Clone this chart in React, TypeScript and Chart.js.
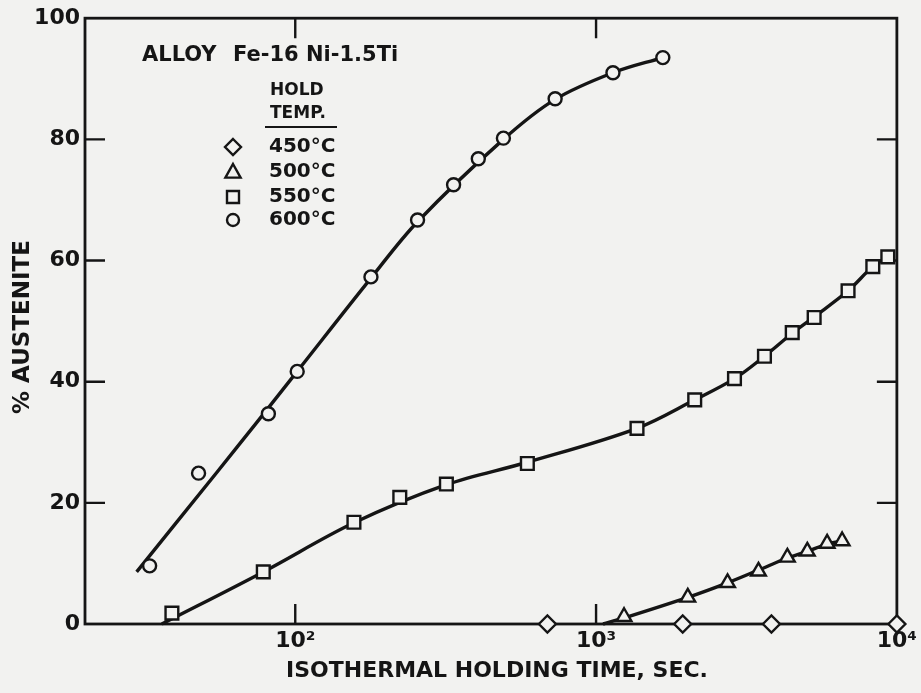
import React, { useEffect, useRef } from 'react';
import { Chart, registerables } from 'chart.js';

Chart.register(...registerables);

// ---- Data (x: seconds, y: % austenite) ----
const t600 = [32.8, 47.7, 81.4, 101.5, 178.5, 255, 336, 406, 492, 731, 1138, 1667];
const a600 = [9.6, 24.9, 34.7, 41.7, 57.3, 66.7, 72.5, 76.8, 80.2, 86.7, 91.0, 93.5];

const t550 = [38.9, 78.3, 156.7, 222.6, 318, 591, 1368, 2128, 2885, 3629, 4489, 5309, 6882, 8318, 9330];
const a550 = [1.8, 8.6, 16.8, 20.9, 23.1, 26.5, 32.3, 37.0, 40.5, 44.2, 48.1, 50.6, 55.0, 59.0, 60.6];

const t500 = [1239, 2018, 2736, 3467, 4325, 5038, 5863, 6577];
const a500 = [1.2, 4.4, 6.8, 8.7, 11.0, 12.0, 13.3, 13.7];

const t450 = [689, 1941, 3828, 10000];
const a450 = [0, 0, 0, 0];

// smooth fitted curves as drawn in the reference
const fit600T = [29.7, 55, 74.3, 101.5, 178.5, 255, 492, 731, 1138, 1667];
const fit600A = [8.6, 25.1, 33.2, 41.7, 57.1, 66.4, 80.0, 86.6, 91.0, 93.5];

const fit550T = [36, 78.3, 156.7, 318, 591, 1368, 2128, 2885, 3629, 4489, 5309, 6882, 8318, 9330];
const fit550A = [0, 8.6, 16.7, 23.0, 26.7, 32.3, 37.0, 40.5, 44.2, 48.0, 50.7, 55.0, 59.0, 60.6];

const fit500T = [1055, 1239, 2018, 2736, 3467, 4325, 5038, 5863, 6577];
const fit500A = [0, 1.0, 4.4, 6.8, 8.9, 10.9, 12.0, 13.2, 13.7];

const xTickLabels: Record<number, string> = { 100: '10²', 1000: '10³', 10000: '10⁴' };
const yTicks = [20, 40, 60, 80];
const xInnerTicks = [100, 1000];

const legendLabels = ['450°C', '500°C', '550°C', '600°C'];
const legendStyles = ['diamond', 'triangle', 'square', 'circle'];

const INK = '#151515';
const PAPER = '#f2f2f0';
const FONT = '"DejaVu Sans", sans-serif';

const pts = (xs: number[], ys: number[]) => xs.map((x, i) => ({ x, y: ys[i] }));

function markerSet(label: string, xs: number[], ys: number[], style: string, radius: number) {
  return {
    label,
    data: pts(xs, ys),
    showLine: false,
    pointStyle: style,
    pointRadius: radius,
    pointBackgroundColor: PAPER,
    pointBorderColor: INK,
    pointBorderWidth: 2.4,
    clip: false as any,
  };
}

function fitSet(label: string, xs: number[], ys: number[]) {
  return {
    label,
    data: pts(xs, ys),
    showLine: true,
    pointRadius: 0,
    borderColor: INK,
    borderWidth: 3.4,
    tension: 0.35,
    clip: false as any,
  };
}

function drawSymbol(ctx: CanvasRenderingContext2D, style: string, x: number, y: number, r: number) {
  ctx.beginPath();
  if (style === 'diamond') {
    ctx.moveTo(x, y - r);
    ctx.lineTo(x + r, y);
    ctx.lineTo(x, y + r);
    ctx.lineTo(x - r, y);
    ctx.closePath();
  } else if (style === 'triangle') {
    ctx.moveTo(x, y - r);
    ctx.lineTo(x + r * 0.95, y + r * 0.7);
    ctx.lineTo(x - r * 0.95, y + r * 0.7);
    ctx.closePath();
  } else if (style === 'square') {
    ctx.rect(x - r * 0.75, y - r * 0.75, r * 1.5, r * 1.5);
  } else {
    ctx.arc(x, y, r * 0.75, 0, Math.PI * 2);
  }
  ctx.stroke();
}

const framePlugin = {
  id: 'frame',
  beforeDatasetsDraw(chart: any) {
    const { ctx, chartArea: a, scales } = chart;
    ctx.save();
    ctx.strokeStyle = INK;
    ctx.lineWidth = 2.8;
    ctx.strokeRect(a.left, a.top, a.right - a.left, a.bottom - a.top);
    ctx.lineWidth = 2.4;
    const len = 20;
    yTicks.forEach((v) => {
      const py = scales.y.getPixelForValue(v);
      ctx.beginPath();
      ctx.moveTo(a.left, py);
      ctx.lineTo(a.left + len, py);
      ctx.moveTo(a.right, py);
      ctx.lineTo(a.right - len, py);
      ctx.stroke();
    });
    xInnerTicks.forEach((v) => {
      const px = scales.x.getPixelForValue(v);
      ctx.beginPath();
      ctx.moveTo(px, a.bottom);
      ctx.lineTo(px, a.bottom - len);
      ctx.moveTo(px, a.top);
      ctx.lineTo(px, a.top + len);
      ctx.stroke();
    });
    ctx.restore();
  },
  afterDraw(chart: any) {
    const { ctx } = chart;
    ctx.save();
    ctx.fillStyle = INK;
    ctx.strokeStyle = INK;
    // axis titles
    ctx.font = `bold 22px ${FONT}`;
    ctx.textAlign = 'center';
    ctx.textBaseline = 'middle';
    ctx.fillText('ISOTHERMAL HOLDING TIME, SEC.', 497, 671);
    ctx.save();
    ctx.translate(23, 327);
    ctx.rotate(-Math.PI / 2);
    ctx.font = `bold 23px ${FONT}`;
    ctx.fillText('% AUSTENITE', 0, 0);
    ctx.restore();

    // legend block
    ctx.textAlign = 'left';
    ctx.font = `bold 21px ${FONT}`;
    ctx.fillText('ALLOY', 142, 56);
    ctx.fillText('Fe-16 Ni-1.5Ti', 233, 56);
    ctx.font = `bold 17px ${FONT}`;
    ctx.fillText('HOLD', 270, 91);
    ctx.fillText('TEMP.', 270, 114);
    ctx.lineWidth = 2;
    ctx.beginPath();
    ctx.moveTo(265, 127);
    ctx.lineTo(337, 127);
    ctx.stroke();
    const rows = [147, 172, 197, 220];
    ctx.font = `bold 20px ${FONT}`;
    ctx.lineWidth = 2.4;
    legendLabels.forEach((lab, i) => {
      drawSymbol(ctx, legendStyles[i], 233, rows[i], 8);
      ctx.fillText(lab, 269, rows[i]);
    });
    ctx.restore();
  },
};

export default function App() {
  const ref = useRef<HTMLCanvasElement>(null);
  useEffect(() => {
    if (!ref.current) return;
    const chart = new Chart(ref.current, {
      type: 'scatter',
      data: {
        datasets: [
          markerSet('450°C', t450, a450, 'rectRot', 8.5) as any,
          markerSet('500°C', t500, a500, 'triangle', 8.5) as any,
          markerSet('550°C', t550, a550, 'rect', 9) as any,
          markerSet('600°C', t600, a600, 'circle', 6.5) as any,
          fitSet('fit600', fit600T, fit600A) as any,
          fitSet('fit550', fit550T, fit550A) as any,
          fitSet('fit500', fit500T, fit500A) as any,
        ],
      },
      options: {
        responsive: false,
        animation: false,
        layout: { padding: { top: 17, right: 23, left: 0, bottom: 0 } },
        plugins: { legend: { display: false }, tooltip: { enabled: false }, title: { display: false } },
        scales: {
          x: {
            type: 'logarithmic',
            min: 20,
            max: 10000,
            grid: { display: false, drawTicks: false },
            border: { display: false },
            afterFit: (s: any) => { s.height = 69; },
            ticks: {
              autoSkip: false,
              maxRotation: 0,
              padding: 4,
              color: INK,
              font: { family: FONT, size: 22, weight: 'bold' },
              callback: (v: any) => xTickLabels[Math.round(Number(v))] ?? null,
            },
          },
          y: {
            min: 0,
            max: 100,
            grid: { display: false, drawTicks: false },
            border: { display: false },
            afterFit: (s: any) => { s.width = 85; },
            ticks: {
              stepSize: 20,
              padding: 5,
              color: INK,
              font: { family: FONT, size: 22, weight: 'bold' },
            },
          },
        },
      },
      plugins: [framePlugin],
    });
    return () => chart.destroy();
  }, []);
  return (
    <div style={{ position: 'absolute', left: 0, top: 0, width: 921, height: 693, background: PAPER }}>
      <canvas ref={ref} width={921} height={693} style={{ display: 'block' }} />
    </div>
  );
}
